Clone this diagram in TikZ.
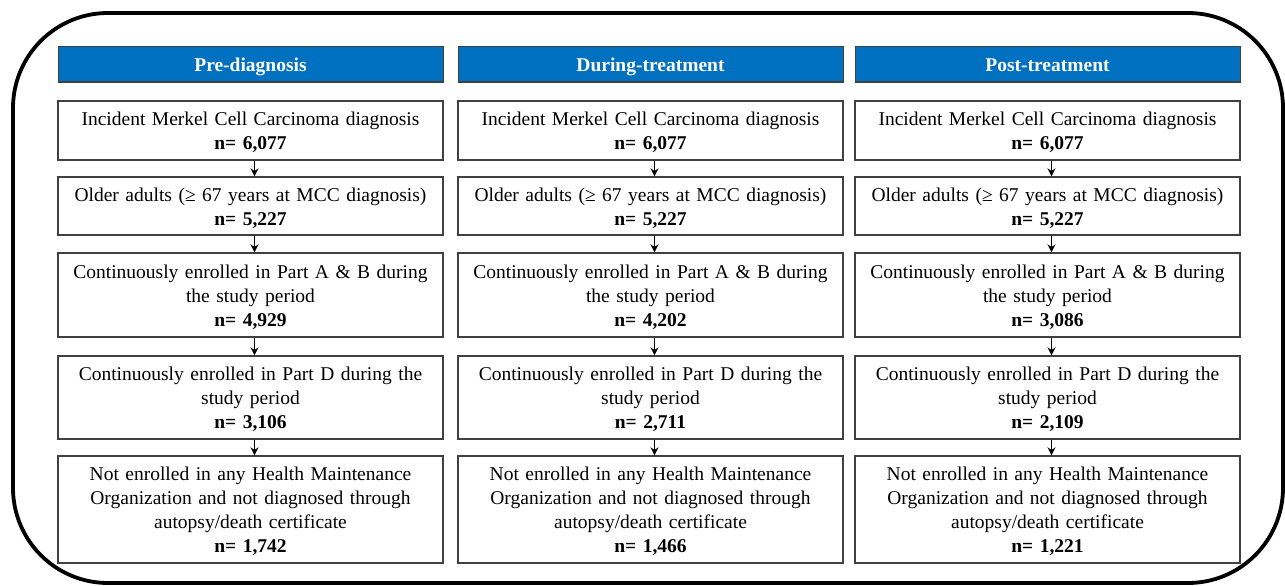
\documentclass[tikz,border=0pt]{standalone}
\usepackage{fontspec}
\setmainfont{Liberation Serif}
\usetikzlibrary{arrows.meta}
\definecolor{hdrblue}{HTML}{0070C0}
\definecolor{boxgray}{HTML}{404040}
\begin{document}
\begin{tikzpicture}[x=1pt,y=-1pt,
  hdr/.style={draw=boxgray, line width=1pt, fill=hdrblue, text=white,
    font=\bfseries\fontsize{19.5}{23}\selectfont, minimum width=385pt,
    minimum height=35pt, inner sep=0pt, text height=18pt, text depth=3pt},
  stepbox/.style={draw=boxgray, line width=1.3pt, fill=white,
    font=\fontsize{19.5}{24}\selectfont, align=center, text width=380pt,
    minimum width=385pt, inner sep=0pt,
    execute at begin node={\rule{0pt}{18pt}}},
  flow/.style={-{Stealth[length=8pt,width=8pt]}, line width=1.7pt, black}]
\useasboundingbox (0,0) rectangle (1285,586);
\draw[line width=3.8pt, rounded corners=95pt] (13,13) rectangle (1283,583);

% headers
\node[hdr] (h1) at (250.5,64.5) {Pre-diagnosis};
\node[hdr] (h2) at (650.5,64.5) {During-treatment};
\node[hdr] (h3) at (1047.5,64.5) {Post-treatment};

% column 1
\node[stepbox, minimum height=59pt] (a1) at (250.5,130.5) {Incident Merkel Cell Carcinoma diagnosis\\\textbf{n= 6,077}};
\node[stepbox, minimum height=58pt] (b1) at (250.5,206) {Older adults (≥ 67 years at MCC diagnosis)\\\textbf{n= 5,227}};
\node[stepbox, minimum height=84pt] (c1) at (250.5,295) {Continuously enrolled in Part A \& B during\\the study period\\\textbf{n= 4,929}};
\node[stepbox, minimum height=83pt] (d1) at (250.5,397.5) {Continuously enrolled in Part D during the\\study period\\\textbf{n= 3,106}};
\node[stepbox, minimum height=107pt] (e1) at (250.5,509.5) {Not enrolled in any Health Maintenance\\Organization and not diagnosed through\\autopsy/death certificate\\\textbf{n= 1,742}};

% column 2
\node[stepbox, minimum height=59pt] (a2) at (650.5,130.5) {Incident Merkel Cell Carcinoma diagnosis\\\textbf{n= 6,077}};
\node[stepbox, minimum height=58pt] (b2) at (650.5,206) {Older adults (≥ 67 years at MCC diagnosis)\\\textbf{n= 5,227}};
\node[stepbox, minimum height=84pt] (c2) at (650.5,295) {Continuously enrolled in Part A \& B during\\the study period\\\textbf{n= 4,202}};
\node[stepbox, minimum height=83pt] (d2) at (650.5,397.5) {Continuously enrolled in Part D during the\\study period\\\textbf{n= 2,711}};
\node[stepbox, minimum height=107pt] (e2) at (650.5,509.5) {Not enrolled in any Health Maintenance\\Organization and not diagnosed through\\autopsy/death certificate\\\textbf{n= 1,466}};

% column 3
\node[stepbox, minimum height=59pt] (a3) at (1047.5,130.5) {Incident Merkel Cell Carcinoma diagnosis\\\textbf{n= 6,077}};
\node[stepbox, minimum height=58pt] (b3) at (1047.5,206) {Older adults (≥ 67 years at MCC diagnosis)\\\textbf{n= 5,227}};
\node[stepbox, minimum height=84pt] (c3) at (1047.5,295) {Continuously enrolled in Part A \& B during\\the study period\\\textbf{n= 3,086}};
\node[stepbox, minimum height=83pt] (d3) at (1047.5,397.5) {Continuously enrolled in Part D during the\\study period\\\textbf{n= 2,109}};
\node[stepbox, minimum height=107pt] (e3) at (1047.5,509.5) {Not enrolled in any Health Maintenance\\Organization and not diagnosed through\\autopsy/death certificate\\\textbf{n= 1,221}};

% connectors
\foreach \c in {1,2,3}{
  \draw[flow] ([xshift=4pt]a\c.south) -- ([xshift=4pt]b\c.north);
  \draw[flow] ([xshift=4pt]b\c.south) -- ([xshift=4pt]c\c.north);
  \draw[flow] ([xshift=4pt]c\c.south) -- ([xshift=4pt]d\c.north);
  \draw[flow] ([xshift=4pt]d\c.south) -- ([xshift=4pt]e\c.north);
}
\end{tikzpicture}
\end{document}
